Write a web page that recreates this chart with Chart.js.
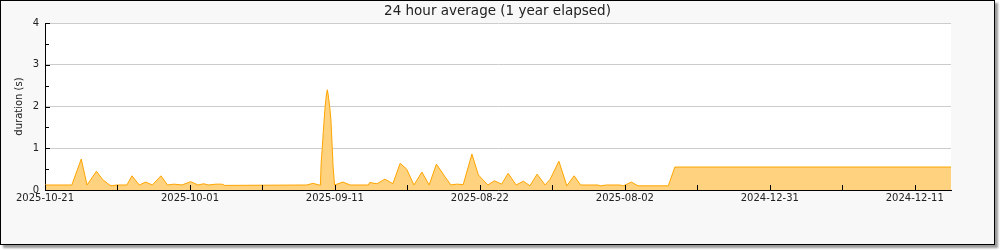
<!DOCTYPE html>
<html>
<head>
<meta charset="utf-8">
<script src="https://cdn.jsdelivr.net/npm/chart.js@4"></script>
<style>
  html, body { margin: 0; padding: 0; background: #fff; }
  #frame {
    position: absolute; left: 0; top: 0;
    width: 993px; height: 243px;
    border: 1px solid #000;
    background: #f8f8f8;
    box-shadow: 3px 3px 2px #9a9a9a;
  }
  canvas { display: block; }
</style>
</head>
<body>
<div id="frame"><canvas id="avg-chart" width="993" height="243"></canvas></div>
<script>
// days back from 2025-10-21 (axis position) and 24h average duration in seconds
const dayOffsets = [0, 3.7, 5.0, 5.8, 7.1, 7.9, 8.6, 9.1, 9.9,
  11.3, 12.0, 13.0, 13.9, 14.8, 16.0, 16.9, 17.8, 18.9,
  20.1, 21.1, 21.9, 22.5, 23.6, 24.4, 24.8,
  36.1, 37.0, 37.8, 38.0,
  38.1, 38.25, 38.4, 38.5, 38.65, 38.8, 38.95, 39.1, 39.3, 39.45, 39.6, 39.75, 39.95,
  41.1, 42.1, 44.6, 44.8, 45.8, 46.9, 48.0, 49.0, 49.9,
  50.9, 52.0, 53.0, 54.0, 55.1, 56.0, 56.8, 57.7, 58.9, 59.8,
  61.1, 62.0, 63.0, 63.9, 65.0, 66.0, 66.9, 67.9, 69.0, 69.7,
  70.9, 72.0, 73.0, 73.9, 76.3, 76.6, 77.5, 79.3, 79.8, 80.9,
  81.8, 86.0, 86.9, 125];
const durations = [0.12, 0.12, 0.74, 0.12, 0.45, 0.26, 0.16, 0.10, 0.12,
  0.12, 0.34, 0.12, 0.19, 0.12, 0.34, 0.12, 0.14, 0.12,
  0.20, 0.12, 0.15, 0.12, 0.14, 0.14, 0.11,
  0.12, 0.16, 0.12, 0.12,
  0.65, 1.0, 1.4, 1.65, 2.0, 2.25, 2.4, 2.25, 1.96, 1.68, 1.12, 0.56, 0.12,
  0.19, 0.12, 0.12, 0.18, 0.15, 0.26, 0.15, 0.64, 0.50,
  0.12, 0.43, 0.12, 0.62, 0.34, 0.12, 0.14, 0.13, 0.86, 0.36,
  0.12, 0.22, 0.14, 0.40, 0.12, 0.21, 0.10, 0.38, 0.12, 0.26,
  0.69, 0.10, 0.34, 0.12, 0.12, 0.10, 0.12, 0.12, 0.10, 0.19,
  0.10, 0.10, 0.55, 0.55];
const tickDays = [0, 20, 40, 60, 80, 100, 120];
const tickLabels = ["2025-10-21", "2025-10-01", "2025-09-11", "2025-08-22",
  "2025-08-02", "2024-12-31", "2024-12-11"];
const minorTickDays = [10, 30, 50, 70, 90, 110];
const yTickValues = [0.5, 1, 1.5, 2, 2.5, 3, 3.5, 4];

const FONT = "'DejaVu Sans', sans-serif";

// white plot area behind the data
const plotBackground = {
  id: "plotBackground",
  beforeDraw(chart) {
    const { ctx, chartArea: a } = chart;
    ctx.save();
    ctx.fillStyle = "#ffffff";
    ctx.fillRect(a.left, a.top, a.right - a.left, a.bottom - a.top);
    ctx.restore();
  },
};

// short tick marks pointing into the plot
const innerTicks = {
  id: "innerTicks",
  afterDatasetsDraw(chart) {
    const { ctx, chartArea: a, scales } = chart;
    ctx.save();
    ctx.strokeStyle = "#000";
    ctx.lineWidth = 1;
    ctx.beginPath();
    tickDays.concat(minorTickDays).forEach((d) => {
      const x = Math.round(scales.x.getPixelForValue(d)) + 0.5;
      ctx.moveTo(x, a.bottom);
      ctx.lineTo(x, a.bottom - 5);
    });
    yTickValues.forEach((v) => {
      const y = Math.round(scales.y.getPixelForValue(v)) + 0.5;
      ctx.moveTo(a.left, y);
      ctx.lineTo(a.left + (Number.isInteger(v) ? 5 : 4), y);
    });
    ctx.stroke();
    ctx.restore();
  },
};

const ctx = document.getElementById("avg-chart");

new Chart(ctx, {
  type: "line",
  data: {
    datasets: [
      {
        label: "24 hour average",
        data: dayOffsets.map((d, i) => ({ x: d, y: durations[i] })),
        borderColor: "#ffa500",
        backgroundColor: "#ffd27f",
        borderWidth: 1,
        pointRadius: 0,
        tension: 0,
        fill: "origin",
      },
    ],
  },
  options: {
    responsive: false,
    animation: false,
    layout: { padding: 0 },
    plugins: {
      legend: { display: false },
      tooltip: { enabled: false },
      title: {
        display: true,
        text: "24 hour average (1 year elapsed)",
        color: "#222",
        font: { family: FONT, size: 13.5, weight: "normal" },
        padding: { top: 2, bottom: 3.8 },
      },
    },
    scales: {
      x: {
        type: "linear",
        min: 0,
        max: 125,
        afterBuildTicks: (scale) => {
          scale.ticks = tickDays.map((v) => ({ value: v }));
        },
        afterFit: (scale) => { scale.height = 54; },
        ticks: {
          autoSkip: false,
          maxRotation: 0,
          padding: 2,
          color: "#222",
          font: { family: FONT, size: 10 },
          callback: (v) => tickLabels[tickDays.indexOf(v)],
        },
        grid: { display: false, drawTicks: false },
        border: { color: "#000", width: 1 },
      },
      y: {
        min: 0,
        max: 4,
        afterFit: (scale) => { scale.width = 44; },
        ticks: {
          stepSize: 1,
          padding: 6,
          color: "#222",
          font: { family: FONT, size: 10 },
        },
        grid: { color: "#cccccc", drawTicks: false, lineWidth: 1 },
        border: { color: "#000", width: 1 },
        title: {
          display: true,
          text: "duration (s)",
          color: "#222",
          font: { family: FONT, size: 10 },
          padding: { top: 12, bottom: 0 },
        },
      },
      // empty right-hand gutter so the title centres on the whole frame
      gutter: {
        position: "right",
        min: 0,
        max: 4,
        afterFit: (scale) => { scale.width = 43; },
        ticks: { display: false },
        grid: { display: false, drawTicks: false },
        border: { display: false },
      },
    },
  },
  plugins: [plotBackground, innerTicks],
});
</script>
</body>
</html>
